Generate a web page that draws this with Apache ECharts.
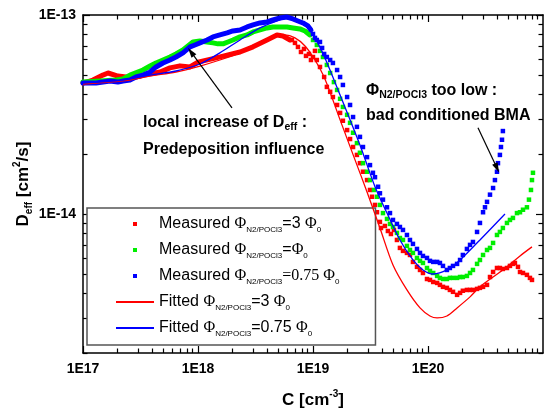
<!DOCTYPE html>
<html>
<head>
<meta charset="utf-8">
<script src="https://cdn.jsdelivr.net/npm/echarts@6.0.0/dist/echarts.min.js"></script>
<style>
  html, body { margin: 0; padding: 0; background: #fff; }
  #chart { width: 560px; height: 412px; }
</style>
</head>
<body>
<div id="chart"></div>
<script>
// concentration C [cm^-3] , diffusivity D_eff [cm^2/s]
const redBand = [[1e17,4.55e-14],[1.22e17,4.71e-14],[1.49e17,4.99e-14],[1.65e17,5.11e-14],[2.01e17,4.93e-14],[2.37e17,4.88e-14],[2.89e17,4.88e-14],[3.83e17,5.05e-14],[4.67e17,5.17e-14],[5.71e17,5.42e-14],[6.97e17,5.55e-14],[8.52e17,5.48e-14],[1e18,5.8e-14],[1.35e18,6.04e-14],[1.79e18,6.29e-14],[2.32e18,6.52e-14],[3.01e18,6.92e-14],[3.98e18,7.49e-14],[4.86e18,7.93e-14],[5.48e18,7.84e-14],[6.31e18,7.49e-14]];
const redDots = [[6.56e18,7.49e-14],[6.97e18,7.24e-14],[7.4e18,6.91e-14],[7.86e18,6.52e-14],[8.35e18,6.75e-14],[8.69e18,6.23e-14],[9.22e18,6.37e-14],[9.6e18,5.94e-14],[1e19,6.15e-14],[1.04e19,6.6e-14],[1.08e19,5.94e-14],[1.15e19,5.48e-14],[1.25e19,4.88e-14],[1.32e19,4.35e-14],[1.41e19,4.11e-14],[1.49e19,3.87e-14],[1.62e19,3.53e-14],[1.72e19,3.22e-14],[1.82e19,2.94e-14],[1.98e19,2.64e-14],[2.1e19,2.38e-14],[2.23e19,2.17e-14],[2.41e19,1.98e-14],[2.56e19,1.8e-14],[2.72e19,1.63e-14],[2.95e19,1.48e-14],[3.13e19,1.32e-14],[3.26e19,1.22e-14],[3.46e19,1.11e-14],[3.6e19,1.02e-14],[3.82e19,9.12e-15],[3.9e19,8.5e-15],[4.22e19,8.7e-15],[4.48e19,8.21e-15],[4.76e19,7.93e-15],[5.06e19,8.31e-15],[5.37e19,7.4e-15],[5.7e19,6.75e-15],[6.06e19,6.52e-15],[6.56e19,6.37e-15],[6.97e19,6.22e-15],[7.4e19,5.74e-15],[8.02e19,5.42e-15],[8.52e19,5.23e-15],[9.04e19,5.05e-15],[9.8e19,4.71e-15],[1.04e20,4.66e-15],[1.11e20,4.55e-15],[1.2e20,4.5e-15],[1.27e20,4.4e-15],[1.35e20,4.3e-15],[1.46e20,4.25e-15],[1.55e20,4.15e-15],[1.65e20,4.06e-15],[1.79e20,3.92e-15],[1.9e20,4.01e-15],[2.01e20,4.11e-15],[2.18e20,4.15e-15],[2.32e20,4.15e-15],[2.46e20,4.15e-15],[2.67e20,4.2e-15],[2.83e20,4.25e-15],[3.01e20,4.3e-15],[3.26e20,4.4e-15],[3.46e20,4.82e-15],[3.68e20,5.11e-15],[3.98e20,5.35e-15],[4.22e20,5.35e-15],[4.48e20,5.29e-15],[4.86e20,5.35e-15],[5.16e20,5.48e-15],[5.48e20,5.61e-15],[5.7e20,5.67e-15],[6.06e20,5.42e-15],[6.31e20,5.11e-15],[6.7e20,5.05e-15],[7.25e20,4.94e-15],[7.7e20,4.77e-15],[8.02e20,4.66e-15]];
const greenBand = [[1e17,4.6e-14],[1.41e17,4.66e-14],[1.94e17,4.71e-14],[2.23e17,4.77e-14],[2.56e17,4.99e-14],[3.32e17,5.29e-14],[3.83e17,5.54e-14],[4.31e17,5.74e-14],[4.96e17,5.94e-14],[5.7e17,6.15e-14],[6.43e17,6.37e-14],[7.4e17,6.67e-14],[8.18e17,6.99e-14],[9.04e17,7.32e-14],[1.04e18,7.4e-14],[1.2e18,7.32e-14],[1.35e18,7.24e-14],[1.49e18,7.16e-14],[1.65e18,7.16e-14],[1.82e18,7.32e-14],[2.01e18,7.49e-14],[2.32e18,7.76e-14],[2.67e18,7.94e-14],[3.01e18,8.22e-14],[3.46e18,8.41e-14],[3.98e18,8.61e-14],[4.48e18,8.71e-14],[5.16e18,8.71e-14],[5.94e18,8.71e-14],[6.7e18,8.61e-14],[7.7e18,8.51e-14],[8.52e18,8.31e-14],[9.41e18,7.94e-14]];
const greenDots = [[1e19,7.49e-14],[1.08e19,7.07e-14],[1.15e19,6.6e-14],[1.22e19,6.15e-14],[1.32e19,5.61e-14],[1.41e19,5.11e-14],[1.52e19,4.6e-14],[1.62e19,4.2e-14],[1.72e19,3.79e-14],[1.82e19,3.45e-14],[1.98e19,3.15e-14],[2.1e19,2.87e-14],[2.23e19,2.56e-14],[2.41e19,2.27e-14],[2.56e19,2.03e-14],[2.72e19,1.8e-14],[2.95e19,1.63e-14],[3.13e19,1.48e-14],[3.39e19,1.32e-14],[3.6e19,1.22e-14],[3.82e19,1.11e-14],[4.06e19,1.01e-14],[4.4e19,9.44e-15],[4.67e19,8.91e-15],[4.96e19,8.6e-15],[5.37e19,8.03e-15],[5.7e19,7.57e-15],[6.06e19,7.4e-15],[6.56e19,6.91e-15],[6.97e19,6.59e-15],[7.4e19,6.37e-15],[8.02e19,6.01e-15],[8.52e19,5.81e-15],[9.04e19,5.67e-15],[9.8e19,5.35e-15],[1.04e20,5.17e-15],[1.11e20,5.05e-15],[1.2e20,4.88e-15],[1.27e20,4.77e-15],[1.35e20,4.71e-15],[1.46e20,4.71e-15],[1.55e20,4.77e-15],[1.65e20,4.77e-15],[1.79e20,4.77e-15],[1.9e20,4.82e-15],[2.01e20,4.82e-15],[2.18e20,4.88e-15],[2.32e20,5.05e-15],[2.46e20,5.23e-15],[2.67e20,5.61e-15],[2.83e20,5.87e-15],[3.01e20,6.22e-15],[3.26e20,6.59e-15],[3.46e20,6.75e-15],[3.68e20,7.15e-15],[3.98e20,7.84e-15],[4.22e20,8.12e-15],[4.48e20,8.5e-15],[4.86e20,9.01e-15],[5.16e20,9.33e-15],[5.48e20,9.55e-15],[5.94e20,1.01e-14],[6.31e20,1.02e-14],[6.7e20,1.05e-14],[7.25e20,1.08e-14],[7.55e20,1.18e-14],[7.86e20,1.32e-14],[8.02e20,1.48e-14],[8.18e20,1.61e-14]];
const blueBand = [[1e17,4.55e-14],[1.3e17,4.55e-14],[1.72e17,4.66e-14],[2.01e17,4.6e-14],[2.23e17,4.66e-14],[2.56e17,4.71e-14],[2.89e17,4.88e-14],[3.32e17,4.99e-14],[3.83e17,5.17e-14],[4.31e17,5.48e-14],[4.96e17,5.74e-14],[5.7e17,5.94e-14],[6.43e17,6.15e-14],[7.4e17,6.45e-14],[8.52e17,6.91e-14],[9.41e17,7.07e-14],[1.04e18,7.24e-14],[1.2e18,7.49e-14],[1.35e18,7.76e-14],[1.55e18,7.94e-14],[1.79e18,8.13e-14],[2.01e18,8.31e-14],[2.32e18,8.41e-14],[2.67e18,8.71e-14],[3.01e18,8.91e-14],[3.46e18,9.12e-14],[3.98e18,9.23e-14],[4.48e18,9.44e-14],[5.16e18,9.66e-14],[5.94e18,9.77e-14],[6.7e18,9.55e-14],[7.4e18,9.33e-14],[8.18e18,9.12e-14],[9.04e18,8.81e-14],[9.6e18,8.41e-14]];
const blueDots = [[1e19,8.03e-14],[1.04e19,7.67e-14],[1.08e19,7.49e-14],[1.15e19,7.32e-14],[1.2e19,6.83e-14],[1.25e19,6.37e-14],[1.32e19,6.15e-14],[1.41e19,5.94e-14],[1.49e19,5.74e-14],[1.62e19,5.29e-14],[1.72e19,4.88e-14],[1.82e19,4.45e-14],[1.98e19,3.87e-14],[2.1e19,3.53e-14],[2.23e19,3.07e-14],[2.41e19,2.74e-14],[2.56e19,2.44e-14],[2.72e19,2.17e-14],[2.95e19,1.93e-14],[3.13e19,1.76e-14],[3.32e19,1.61e-14],[3.46e19,1.53e-14],[3.68e19,1.37e-14],[3.82e19,1.27e-14],[4.06e19,1.18e-14],[4.4e19,1.08e-14],[4.67e19,1.01e-14],[4.96e19,9.33e-15],[5.37e19,8.91e-15],[5.7e19,8.6e-15],[6.06e19,8.31e-15],[6.56e19,7.84e-15],[6.97e19,7.4e-15],[7.4e19,7.07e-15],[8.02e19,6.67e-15],[8.52e19,6.37e-15],[9.04e19,6.15e-15],[9.8e19,6.01e-15],[1.04e20,5.81e-15],[1.11e20,5.74e-15],[1.2e20,5.74e-15],[1.27e20,5.67e-15],[1.35e20,5.48e-15],[1.46e20,5.23e-15],[1.55e20,5.35e-15],[1.65e20,5.48e-15],[1.79e20,5.61e-15],[1.9e20,5.87e-15],[2.01e20,6.22e-15],[2.18e20,6.67e-15],[2.32e20,6.99e-15],[2.46e20,7.23e-15],[2.67e20,8.12e-15],[2.83e20,9.01e-15],[3.01e20,1.02e-14],[3.13e20,1.08e-14],[3.26e20,1.15e-14],[3.46e20,1.25e-14],[3.68e20,1.35e-14],[3.82e20,1.48e-14],[3.98e20,1.63e-14],[4.06e20,1.8e-14],[4.22e20,1.98e-14],[4.31e20,2.17e-14],[4.4e20,2.36e-14],[4.48e20,2.61e-14]];
const fitRed = [[1e17,4.5e-14],[2.23e17,4.66e-14],[3.83e17,4.94e-14],[6.43e17,5.17e-14],[1.04e18,5.54e-14],[1.55e18,5.94e-14],[2.32e18,6.45e-14],[3.46e18,7.16e-14],[4.67e18,7.76e-14],[5.7e18,7.94e-14],[6.97e18,7.67e-14],[8.52e18,6.99e-14],[1.04e19,5.94e-14],[1.27e19,4.77e-14],[1.72e19,2.97e-14],[2.32e19,1.87e-14],[2.95e19,1.29e-14],[3.82e19,8.5e-15],[4.96e19,5.54e-15],[6.56e19,4.15e-15],[8.52e19,3.37e-15],[1.04e20,3.07e-15],[1.2e20,3.0e-15],[1.46e20,3.07e-15],[1.79e20,3.37e-15],[2.32e20,3.83e-15],[2.83e20,4.3e-15],[3.68e20,4.82e-15],[4.86e20,5.42e-15],[6.31e20,6.15e-15],[8.02e20,6.83e-15]];
const fitBlue = [[1e17,4.55e-14],[2.23e17,4.71e-14],[3.83e17,4.99e-14],[6.43e17,5.23e-14],[1.04e18,5.67e-14],[1.55e18,6.45e-14],[2.32e18,7.49e-14],[3.46e18,8.61e-14],[4.86e18,9.33e-14],[5.94e18,9.66e-14],[7.25e18,9.44e-14],[8.86e18,8.71e-14],[1.04e19,7.67e-14],[1.27e19,6.08e-14],[1.72e19,3.96e-14],[2.56e19,2.22e-14],[3.46e19,1.37e-14],[4.4e19,1.01e-14],[5.7e19,7.4e-15],[7.4e19,5.87e-15],[9.04e19,5.23e-15],[1.11e20,4.99e-15],[1.46e20,5.23e-15],[1.9e20,5.87e-15],[2.83e20,7.4e-15],[4.67e20,1.0e-14]];

// arrows of the two notes: [tail, head]
const arrowPredep = [[1.975e18, 3.41e-14], [8.69e17, 6.52e-14]];
const arrowBMA = [[2.72e20, 2.71e-14], [3.98e20, 1.70e-14]];

// ticks
const xMajor = [1e17, 1e18, 1e19, 1e20, 1e21];
const yMajor = [1e-14, 1e-13];
const mant = [2, 3, 4, 5, 6, 7, 8, 9];
const xMinor = [];
[1e17, 1e18, 1e19, 1e20].forEach(d => mant.forEach(m => xMinor.push(m * d)));
const yMinor = [];
[1e-15, 1e-14].forEach(d => mant.forEach(m => yMinor.push(m * d)));

const names = [
  'Measured Φ N2/POCl3=3 Φ0',
  'Measured Φ N2/POCl3=Φ0',
  'Measured Φ N2/POCl3=0.75 Φ0',
  'Fitted Φ N2/POCl3=3 Φ0',
  'Fitted Φ N2/POCl3=0.75 Φ0'
];
const legendText = [
  '{t|Measured }{f|Φ}{s|N2/POCl3}{t|=3 }{f|Φ}{s|0}',
  '{t|Measured }{f|Φ}{s|N2/POCl3}{t|=}{f|Φ}{s|0}',
  '{t|Measured }{f|Φ}{s|N2/POCl3}{f|=0.75 Φ}{s|0}',
  '{t|Fitted }{f|Φ}{s|N2/POCl3}{t|=3 }{f|Φ}{s|0}',
  '{t|Fitted }{f|Φ}{s|N2/POCl3}{t|=0.75 }{f|Φ}{s|0}'
];

const RED = '#ff0000', GREEN = '#00ee00', BLUE = '#0000ff';
const SANS = 'Liberation Sans, Arial, sans-serif';
const SERIF = 'Liberation Serif, Times New Roman, serif';

const expLabel = v => '1E' + Math.round(Math.log10(v));

function xAxis(position, ticks, len, major) {
  return {
    type: 'log', logBase: 10, min: 1e17, max: 1e21, position: position,
    axisLine: { show: major, onZero: false, lineStyle: { color: '#000', width: 1.5 } },
    axisTick: { show: true, inside: true, length: len, customValues: ticks, lineStyle: { color: '#000', width: 1.2 } },
    axisLabel: { show: false },
    splitLine: { show: false },
    minorTick: { show: false }
  };
}
function yAxis(position, ticks, len, major) {
  return {
    type: 'log', logBase: 10, min: 2e-15, max: 1e-13, position: position,
    axisLine: { show: major, onZero: false, lineStyle: { color: '#000', width: 1.5 } },
    axisTick: { show: true, inside: true, length: len, customValues: ticks, lineStyle: { color: '#000', width: 1.2 } },
    axisLabel: { show: false },
    splitLine: { show: false },
    minorTick: { show: false }
  };
}

const xAxes = [
  xAxis('bottom', xMajor, 7, true), xAxis('bottom', xMinor, 4.5, false),
  xAxis('top', xMajor, 7, true), xAxis('top', xMinor, 4.5, false)
];
xAxes[0].axisLabel = {
  show: true, customValues: xMajor, formatter: expLabel, margin: 9,
  color: '#000', fontFamily: SANS, fontWeight: 'bold', fontSize: 14
};
xAxes[0].name = '{b|C [cm}{p|-3}{b|]}';
xAxes[0].nameLocation = 'middle';
xAxes[0].nameGap = 36;
xAxes[0].nameMoveOverlap = false;
xAxes[0].nameTextStyle = {
  rich: {
    b: { fontFamily: SANS, fontWeight: 'bold', fontSize: 17, color: '#000', lineHeight: 22 },
    p: { fontFamily: SANS, fontWeight: 'bold', fontSize: 10, color: '#000', lineHeight: 10, verticalAlign: 'top' }
  }
};

const yAxes = [
  yAxis('left', yMajor, 7, true), yAxis('left', yMinor, 4.5, false),
  yAxis('right', yMajor, 7, true), yAxis('right', yMinor, 4.5, false)
];
yAxes[0].axisLabel = {
  show: true, customValues: yMajor, formatter: expLabel, margin: 7,
  color: '#000', fontFamily: SANS, fontWeight: 'bold', fontSize: 14
};
yAxes[0].name = '{b|D}{s|eff}{b| [cm}{p|2}{b|/s]}';
yAxes[0].nameLocation = 'middle';
yAxes[0].nameRotate = 90;
yAxes[0].nameGap = 49;
yAxes[0].nameMoveOverlap = false;
yAxes[0].nameTextStyle = {
  rich: {
    b: { fontFamily: SANS, fontWeight: 'bold', fontSize: 17, color: '#000', lineHeight: 22 },
    s: { fontFamily: SANS, fontWeight: 'bold', fontSize: 10, color: '#000', lineHeight: 6, verticalAlign: 'bottom' },
    p: { fontFamily: SANS, fontWeight: 'bold', fontSize: 10, color: '#000', lineHeight: 10, verticalAlign: 'top' }
  }
};

function dots(name, data, color) {
  return {
    name: name, type: 'line', data: data, symbol: 'rect', symbolSize: 4.5,
    lineStyle: { opacity: 0, width: 0 }, itemStyle: { color: color },
    emphasis: { disabled: true }, z: 3
  };
}
function band(name, data, color) {
  return {
    name: name, type: 'line', data: data, symbol: 'none',
    lineStyle: { color: color, width: 5, join: 'round', cap: 'round' },
    emphasis: { disabled: true }, z: 2
  };
}
function fit(name, data, color) {
  return {
    name: name, type: 'line', data: data, symbol: 'none', smooth: 0.3,
    lineStyle: { color: color, width: 1.3 }, itemStyle: { color: color },
    emphasis: { disabled: true }, z: 4
  };
}

const arrowLine = pts => [
  { coord: pts[0], symbol: 'none' },
  { coord: pts[1], symbol: 'triangle', symbolSize: [6, 10] }
];

const series = [
  band('band-red', redBand, RED),
  band('band-green', greenBand, GREEN),
  band('band-blue', blueBand, BLUE),
  dots(names[0], redDots, RED),
  dots(names[1], greenDots, GREEN),
  dots(names[2], blueDots, BLUE),
  fit(names[3], fitRed, RED),
  fit(names[4], fitBlue, BLUE),
  {
    name: 'notes', type: 'line', data: [], symbol: 'none', silent: true,
    markLine: {
      silent: true, animation: false,
      label: { show: false },
      lineStyle: { color: '#000', width: 1.2, type: 'solid' },
      emphasis: { disabled: true },
      data: [arrowLine(arrowPredep), arrowLine(arrowBMA)]
    }
  }
];

const legendRich = {
  t: { fontFamily: SANS, fontSize: 16, color: '#000', lineHeight: 20 },
  f: { fontFamily: SERIF, fontSize: 16, color: '#000', lineHeight: 20 },
  s: { fontFamily: SANS, fontSize: 8, color: '#000', lineHeight: 4, verticalAlign: 'bottom' }
};

const noteRich = {
  b: { fontFamily: SANS, fontWeight: 'bold', fontSize: 16, fill: '#000', lineHeight: 20 },
  s: { fontFamily: SANS, fontWeight: 'bold', fontSize: 10.5, fill: '#000', lineHeight: 6, verticalAlign: 'bottom' }
};

const chart = echarts.init(document.getElementById('chart'), null, { renderer: 'canvas' });
chart.setOption({
  animation: false,
  backgroundColor: '#fff',
  grid: { left: 83, right: 17, top: 15, bottom: 59, outerBoundsMode: 'none' },
  xAxis: xAxes,
  yAxis: yAxes,
  legend: {
    orient: 'vertical', left: 87, top: 208,
    padding: [8, 36, 7, 28],
    itemWidth: 38, itemHeight: 5, itemGap: 8,
    selectedMode: false,
    backgroundColor: '#fff', borderColor: '#555', borderWidth: 1.5, borderRadius: 0,
    data: names.map((n, i) => i < 3
      ? { name: n, lineStyle: { opacity: 0 } }
      : { name: n, itemStyle: { opacity: 0 } }),
    formatter: n => legendText[names.indexOf(n)],
    textStyle: { rich: legendRich }
  },
  graphic: [
    { type: 'text', x: 143, y: 123, z: 10,
      style: { text: '{b|local increase of D}{s|eff}{b| :}', rich: noteRich, verticalAlign: 'middle' } },
    { type: 'text', x: 143, y: 150, z: 10,
      style: { text: '{b|Predeposition influence}', rich: noteRich, verticalAlign: 'middle' } },
    { type: 'text', x: 366, y: 91, z: 10,
      style: { text: '{b|Φ}{s|N2/POCl3}{b| too low :}', rich: noteRich, verticalAlign: 'middle' } },
    { type: 'text', x: 366, y: 116, z: 10,
      style: { text: '{b|bad conditioned BMA}', rich: noteRich, verticalAlign: 'middle' } }
  ],
  series: series
});
</script>
</body>
</html>
